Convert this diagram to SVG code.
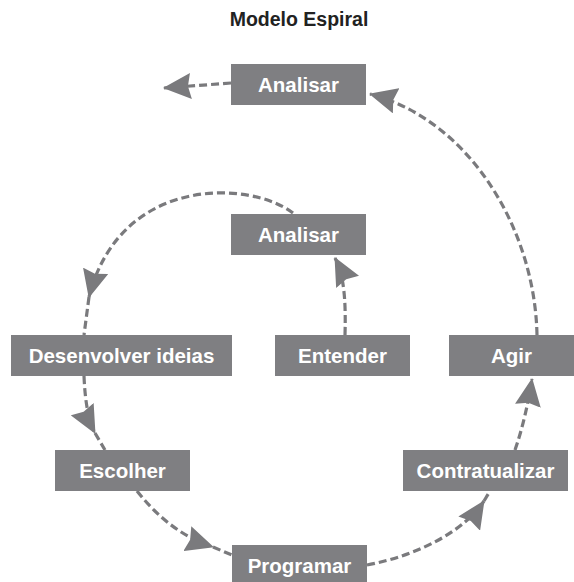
<svg xmlns="http://www.w3.org/2000/svg" width="574" height="582" viewBox="0 0 574 582">
<style>
.box{fill:#7f7f82}
.lbl{font-family:"Liberation Sans",Arial,sans-serif;font-weight:bold;font-size:20.5px;fill:#ffffff;text-anchor:middle}
.title{font-family:"Liberation Sans",Arial,sans-serif;font-weight:bold;font-size:19.5px;fill:#222222;text-anchor:middle}
.con{fill:none;stroke:#7a7a7d;stroke-width:3.2;stroke-dasharray:8 4}
</style>
<defs>
<marker id="ah" markerUnits="userSpaceOnUse" markerWidth="28" markerHeight="26" viewBox="0 0 28 26" refX="27" refY="13" orient="auto">
<path d="M0,0 L28,13 L0,26 L3,13 Z" fill="#7a7a7d"/>
</marker>
</defs>
<rect width="574" height="582" fill="#ffffff"/>
<text class="title" x="299" y="26">Modelo Espiral</text>
<g id="connectors">
<path class="con" d="M231,83 L164,88" marker-end="url(#ah)"/>
<path class="con" d="M537,335 C535,230 470,120 370,94" marker-end="url(#ah)"/>
<path class="con" d="M345,335 C346,300 344,275 335,258" marker-end="url(#ah)"/>
<path class="con" d="M293,213 C250,180 120,175 89,297" marker-end="url(#ah)"/>
<path class="con" d="M89,297 L84,335"/>
<path class="con" d="M84,376 C85,400 88,420 95,433" marker-end="url(#ah)"/>
<path class="con" d="M95,433 L105,450"/>
<path class="con" d="M137,491 C160,520 185,538 213,547" marker-end="url(#ah)"/>
<path class="con" d="M213,547 L232,555"/>
<path class="con" d="M367,565 C420,555 465,530 484,501" marker-end="url(#ah)"/>
<path class="con" d="M484,501 L490,491"/>
<path class="con" d="M515,450 C522,430 528,405 532,379" marker-end="url(#ah)"/>
</g>
<g id="n-analisar-top"><rect class="box" x="231" y="64" width="135" height="41"/><text class="lbl" x="298.5" y="91.5">Analisar</text></g>
<g id="n-analisar-inner"><rect class="box" x="231" y="214" width="135" height="41"/><text class="lbl" x="298.5" y="241.5">Analisar</text></g>
<g id="n-desenvolver"><rect class="box" x="11" y="335" width="221" height="41"/><text class="lbl" x="121.5" y="362.5">Desenvolver ideias</text></g>
<g id="n-entender"><rect class="box" x="275" y="335" width="135" height="41"/><text class="lbl" x="342.5" y="362.5">Entender</text></g>
<g id="n-agir"><rect class="box" x="449" y="335" width="125" height="41"/><text class="lbl" x="511.5" y="362.5">Agir</text></g>
<g id="n-escolher"><rect class="box" x="55" y="450" width="135" height="41"/><text class="lbl" x="122.5" y="477.5">Escolher</text></g>
<g id="n-contratualizar"><rect class="box" x="403" y="450" width="165" height="41"/><text class="lbl" x="485.5" y="477.5">Contratualizar</text></g>
<g id="n-programar"><rect class="box" x="232" y="545" width="135" height="41"/><text class="lbl" x="299.5" y="572.5">Programar</text></g>
</svg>
